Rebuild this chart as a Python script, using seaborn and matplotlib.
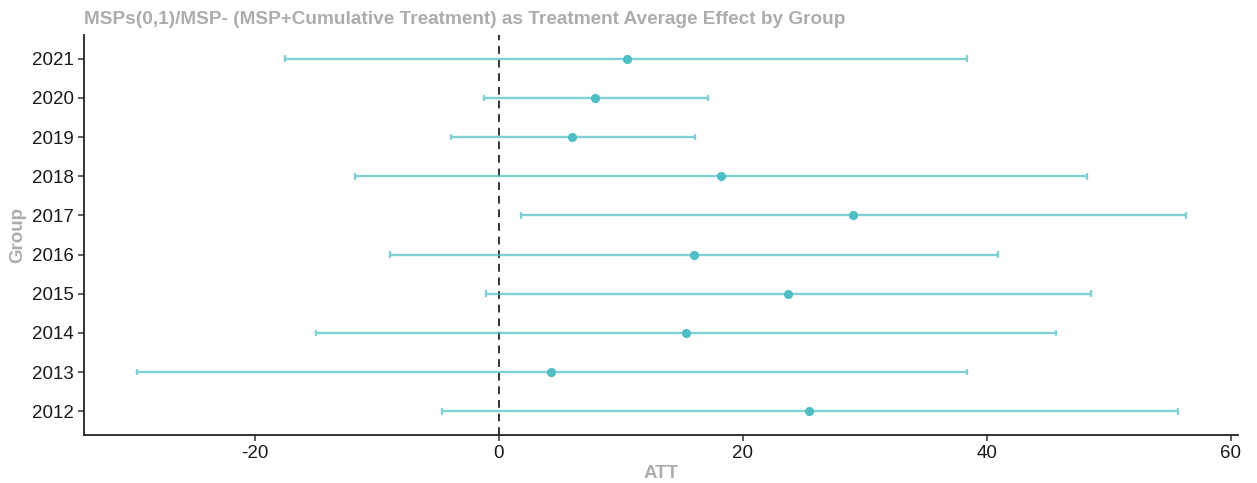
import matplotlib
matplotlib.use("Agg")
import matplotlib.pyplot as plt
import seaborn as sns
import pandas as pd

# Group-wise average treatment effect with confidence bounds
groups = ["2021", "2020", "2019", "2018", "2017", "2016", "2015", "2014", "2013", "2012"]
att = [10.5, 7.9, 6.0, 18.2, 29.0, 16.0, 23.7, 15.3, 4.3, 25.4]
lower = [-17.5, -1.2, -3.9, -11.8, 1.8, -8.9, -1.1, -15.0, -29.7, -4.7]
upper = [38.4, 17.1, 16.1, 48.2, 56.3, 40.9, 48.5, 45.7, 38.4, 55.7]

# Long form: each group carries its lower bound, estimate and upper bound
rows = []
for g, lo, est, hi in zip(groups, lower, att, upper):
    for v in (lo, est, hi):
        rows.append({"Group": g, "ATT": v})
df = pd.DataFrame(rows)

sns.set_theme(style="white")
plt.rcParams["font.family"] = ["Liberation Sans", "DejaVu Sans"]
plt.rcParams["axes.unicode_minus"] = False

fig, ax = plt.subplots(figsize=(12.57, 4.83), dpi=100)
fig.subplots_adjust(left=0.067, right=0.985, top=0.927, bottom=0.10)

teal = "#4FBEC5"
sns.pointplot(
    data=df, x="ATT", y="Group", order=groups,
    estimator="median",
    errorbar=lambda v: (v.min(), v.max()),
    linestyle="none", marker="o", markersize=4.6,
    color=teal, capsize=0.12,
    err_kws={"linewidth": 1.7, "alpha": 0.72},
    ax=ax,
)

ax.axvline(0, color="#333333", linestyle=(0, (4, 3)), linewidth=1.4, zorder=0)

ax.set_xlim(-34.0, 60.6)
ax.set_ylim(9.6, -0.6)
ax.set_xticks([-20, 0, 20, 40, 60])

for s in ("top", "right"):
    ax.spines[s].set_visible(False)
for s in ("left", "bottom"):
    ax.spines[s].set_color("#222222")
    ax.spines[s].set_linewidth(1.3)

ax.tick_params(axis="both", which="both", length=4, width=1.1, color="#333333",
               labelsize=13.5, labelcolor="#1a1a1a", left=True, bottom=True)

ax.set_xlabel("ATT", fontsize=13.5, fontweight="bold", color="#ADADAD", labelpad=2)
ax.set_ylabel("Group", fontsize=13.5, fontweight="bold", color="#ADADAD", labelpad=4)
ax.set_title("MSPs(0,1)/MSP- (MSP+Cumulative Treatment) as Treatment Average Effect by Group",
             loc="left", fontsize=13.7, fontweight="bold", color="#ADADAD", pad=8)
ax.grid(False)

fig.savefig("out.png", dpi=100)
